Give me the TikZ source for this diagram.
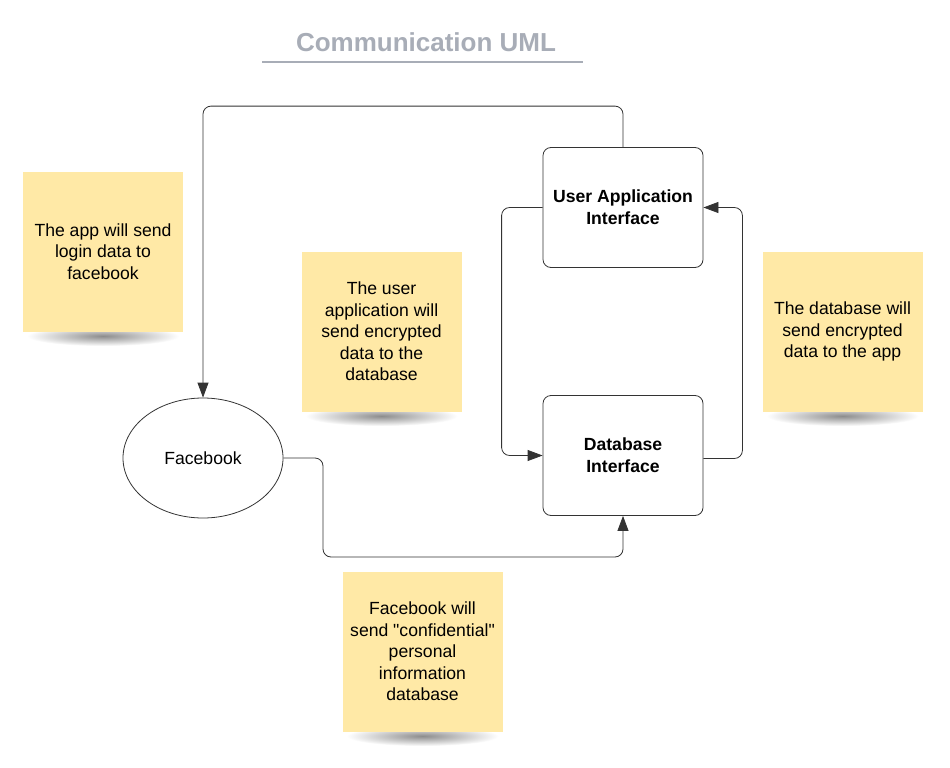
\documentclass[tikz,border=0pt]{standalone}
\usepackage{fontspec}
\setmainfont{Liberation Sans}
\newfontfamily\plainsans{Liberation Sans}
\usetikzlibrary{arrows.meta,shapes.geometric}
\definecolor{note}{HTML}{FFE9A6}
\definecolor{ttl}{HTML}{A8ADB7}
\definecolor{ln}{HTML}{333333}
\begin{document}
\begin{tikzpicture}[x=1pt,y=-1pt,
  notebox/.style={fill=note, minimum width=160pt, minimum height=160pt, align=center, inner sep=0pt, font=\fontsize{17.6}{21.5}\selectfont},
  ibox/.style={draw=ln, rounded corners=8pt, minimum width=160pt, minimum height=120pt, align=center, inner sep=0pt, font=\fontsize{17.6}{22}\selectfont\bfseries, line width=0.8pt},
  conn/.style={draw=ln, line width=0.8pt, rounded corners=8pt, -{Triangle[length=15pt,width=11pt]}},
  shadowell/.style={inner color=black!45, outer color=white},
]
\useasboundingbox (0,0) rectangle (950,768);
\fill[white] (0,0) rectangle (950,768);

% title
\node[font=\fontsize{26}{30}\selectfont\bfseries, text=ttl] (title) at (426,42) {Communication UML};
\draw[ttl, line width=1.5pt] (262,62) -- (583,62);

% shadows
\shade[shadowell] (103,336) ellipse [x radius=76pt, y radius=10pt];
\shade[shadowell] (381.5,416) ellipse [x radius=76pt, y radius=10pt];
\shade[shadowell] (842.5,416) ellipse [x radius=76pt, y radius=10pt];
\shade[shadowell] (422.5,736) ellipse [x radius=76pt, y radius=10pt];

% notes
\node[notebox] (n1) at (103,251.5) {The app will send\\login data to\\facebook};
\node[notebox] (n2) at (381.5,331.5) {The user\\application will\\send encrypted\\data to the\\database};
\node[notebox] (n3) at (842.5,331.5) {The database will\\send encrypted\\data to the app};
\node[notebox] (n4) at (422.5,651.5) {Facebook will\\{\plainsans send "confidential"}\\personal\\information\\database};

% main nodes
\node[ibox] (uai) at (623,207.5) {User Application\\Interface};
\node[ibox] (db) at (623,455.5) {Database\\Interface};
\node[draw=ln, ellipse, line width=0.8pt, minimum width=160pt, minimum height=120pt, inner sep=0pt, font=\fontsize{17.6}{20}\selectfont] (fb) at (203,458) {Facebook};

% connectors
\draw[conn] (uai.north) -- ++(0,-41) -| (fb.north);
\draw[conn] (uai.west) -- ++(-41,0) |- (db.west);
\draw[conn] ([yshift=-3pt]db.east) -- ++(39,0) |- (uai.east);
\coordinate (c4) at (323,557);
\draw[conn] (fb.east) -- (c4 |- fb.east) -- (c4) -| (db.south);
\end{tikzpicture}
\end{document}
